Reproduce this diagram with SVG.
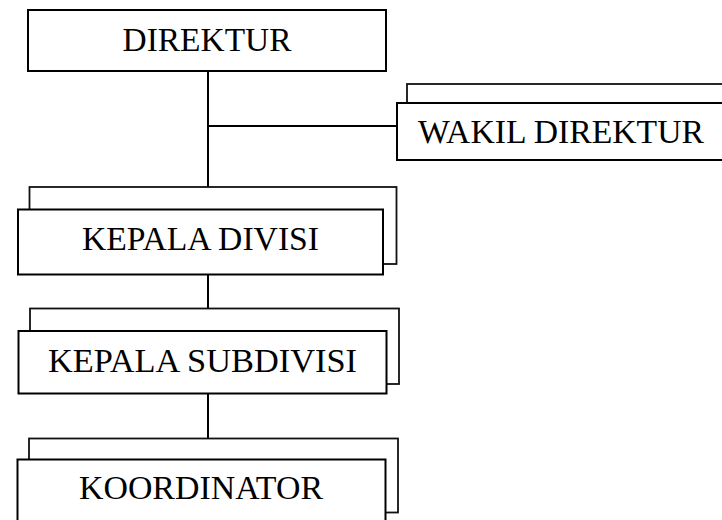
<svg xmlns="http://www.w3.org/2000/svg" width="722" height="520" viewBox="0 0 722 520">
<style>
.front{fill:#fff;stroke:#000;stroke-width:2}
.back{fill:#fff;stroke:#111;stroke-width:1.8}
.lbl{font-family:"Liberation Serif","Times New Roman",serif;font-size:33px;fill:#000}
.conn{stroke:#000;stroke-width:2;fill:none}
</style>
<rect width="722" height="520" fill="#fff"/>
<g id="connectors">
<line class="conn" x1="208" y1="71" x2="208" y2="187"/>
<line class="conn" x1="208" y1="126" x2="397" y2="126"/>
<line class="conn" x1="208" y1="275" x2="208" y2="308"/>
<line class="conn" x1="208" y1="393" x2="208" y2="438"/>
</g>
<g id="direktur">
<rect class="front" x="28" y="10" width="358" height="61"/>
<text class="lbl" x="207" y="51" text-anchor="middle" textLength="169" lengthAdjust="spacingAndGlyphs">DIREKTUR</text>
</g>
<g id="wakil-direktur">
<rect class="back" x="407" y="84" width="330" height="60"/>
<rect class="front" x="397" y="103" width="340" height="57"/>
<text class="lbl" x="418" y="143" textLength="286" lengthAdjust="spacingAndGlyphs">WAKIL DIREKTUR</text>
</g>
<g id="kepala-divisi">
<rect class="back" x="29.5" y="187" width="367" height="77"/>
<rect class="front" x="18" y="209.5" width="365" height="65"/>
<text class="lbl" x="200.5" y="250" text-anchor="middle" textLength="237" lengthAdjust="spacingAndGlyphs">KEPALA DIVISI</text>
</g>
<g id="kepala-subdivisi">
<rect class="back" x="30" y="308.5" width="369" height="75.5"/>
<rect class="front" x="18.5" y="331" width="368" height="62.5"/>
<text class="lbl" x="202.5" y="371.5" text-anchor="middle" textLength="309" lengthAdjust="spacingAndGlyphs">KEPALA SUBDIVISI</text>
</g>
<g id="koordinator">
<rect class="back" x="29" y="438.5" width="369" height="74"/>
<rect class="front" x="17.5" y="459.5" width="368" height="80"/>
<text class="lbl" x="201" y="499" text-anchor="middle" textLength="244" lengthAdjust="spacingAndGlyphs">KOORDINATOR</text>
</g>
</svg>
